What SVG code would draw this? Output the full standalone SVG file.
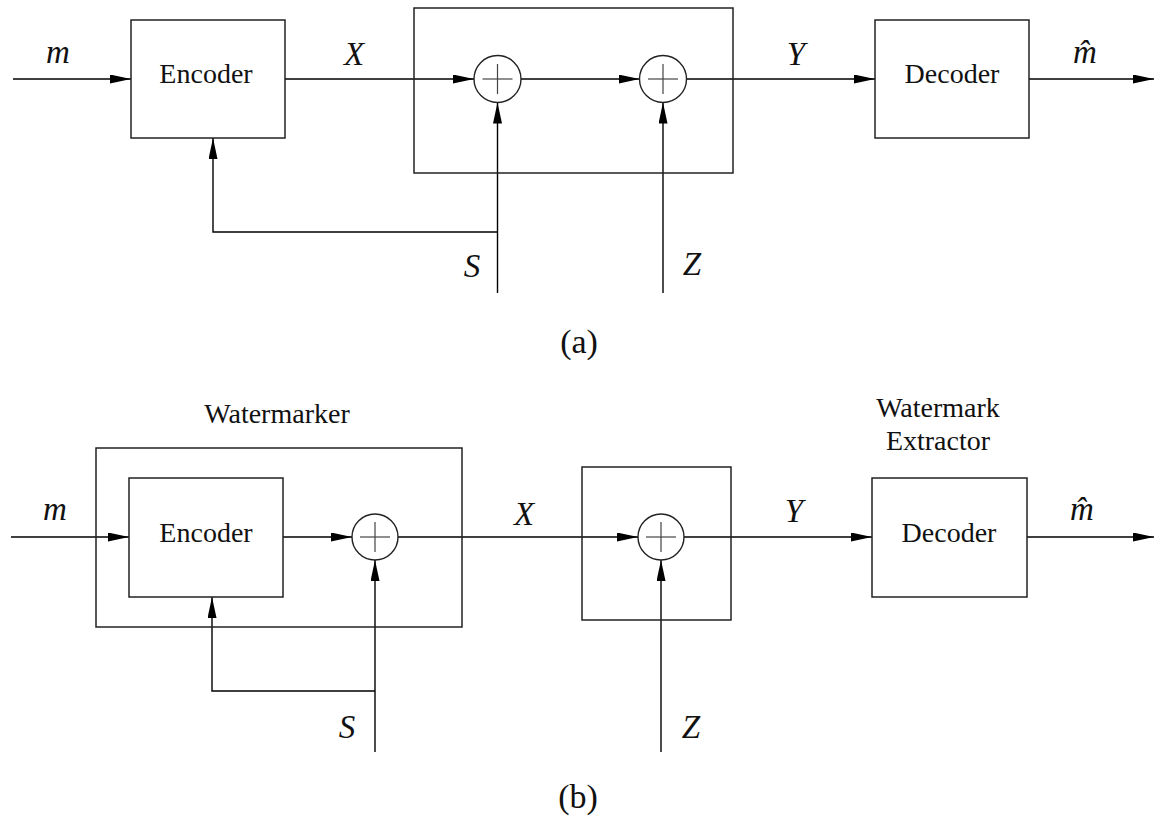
<svg xmlns="http://www.w3.org/2000/svg" width="1155" height="821" viewBox="0 0 1155 821">
<style>
.bg{fill:#fff}
.box{fill:none;stroke:#222;stroke-width:1.5}
.ln{fill:none;stroke:#000;stroke-width:1.4}
.sum{fill:#fff;stroke:#222;stroke-width:1.4}
.plus{stroke:#444;stroke-width:1.2}
.t{font-family:"Liberation Serif","Times New Roman",serif;font-size:28px;fill:#111;text-anchor:middle}
.v{font-family:"Liberation Serif","Times New Roman",serif;font-size:33px;font-style:italic;fill:#111;text-anchor:middle}
.cap{font-family:"Liberation Serif","Times New Roman",serif;font-size:34px;fill:#111;text-anchor:middle}
</style>
<defs>
<marker id="ar" markerUnits="userSpaceOnUse" markerWidth="22" markerHeight="10" refX="21" refY="4.5" orient="auto">
<path d="M0,0 L21,4.5 L0,9 z" fill="#000"/>
</marker>
</defs>
<rect class="bg" x="0" y="0" width="1155" height="821"/>

<g id="connectors">
<!-- (a) -->
<line class="ln" x1="13" y1="79" x2="131" y2="79" marker-end="url(#ar)"/>
<line class="ln" x1="285" y1="79" x2="474" y2="79" marker-end="url(#ar)"/>
<line class="ln" x1="521" y1="79" x2="639.5" y2="79" marker-end="url(#ar)"/>
<line class="ln" x1="686.5" y1="79" x2="875" y2="79" marker-end="url(#ar)"/>
<line class="ln" x1="1029" y1="79" x2="1154" y2="79" marker-end="url(#ar)"/>
<line class="ln" x1="497.5" y1="293" x2="497.5" y2="102.5" marker-end="url(#ar)"/>
<line class="ln" x1="663" y1="293" x2="663" y2="102.5" marker-end="url(#ar)"/>
<polyline class="ln" points="497.5,232 213,232 213,138" marker-end="url(#ar)"/>
<!-- (b) -->
<line class="ln" x1="11" y1="537" x2="129" y2="537" marker-end="url(#ar)"/>
<line class="ln" x1="283" y1="537" x2="352" y2="537" marker-end="url(#ar)"/>
<line class="ln" x1="398" y1="537" x2="638" y2="537" marker-end="url(#ar)"/>
<line class="ln" x1="684" y1="537" x2="872" y2="537" marker-end="url(#ar)"/>
<line class="ln" x1="1027" y1="537" x2="1154" y2="537" marker-end="url(#ar)"/>
<line class="ln" x1="375" y1="752" x2="375" y2="560" marker-end="url(#ar)"/>
<line class="ln" x1="661" y1="752" x2="661" y2="560" marker-end="url(#ar)"/>
<polyline class="ln" points="375,691 212,691 212,597" marker-end="url(#ar)"/>
</g>

<!-- (a) nodes -->
<g id="a-encoder">
<rect class="box" x="131" y="20" width="154" height="118"/>
<text class="t" x="206" y="83">Encoder</text>
</g>
<g id="a-channel">
<rect class="box" x="414" y="8" width="319" height="165"/>
</g>
<g id="a-sum1">
<circle class="sum" cx="497.5" cy="79" r="23.5"/>
<line class="plus" x1="482.5" y1="79" x2="512.5" y2="79"/>
<line class="plus" x1="497.5" y1="64" x2="497.5" y2="94"/>
</g>
<g id="a-sum2">
<circle class="sum" cx="663" cy="79" r="23.5"/>
<line class="plus" x1="648" y1="79" x2="678" y2="79"/>
<line class="plus" x1="663" y1="64" x2="663" y2="94"/>
</g>
<g id="a-decoder">
<rect class="box" x="875" y="20" width="154" height="118"/>
<text class="t" x="952" y="83">Decoder</text>
</g>
<g id="a-labels">
<text class="v" x="58" y="63">m</text>
<text class="v" x="354" y="65">X</text>
<text class="v" x="796" y="65">Y</text>
<text class="v" x="1085" y="63">m̂</text>
<text class="v" x="472" y="277">S</text>
<text class="v" x="692" y="275">Z</text>
<text class="cap" x="579" y="353">(a)</text>
</g>

<!-- (b) nodes -->
<g id="b-watermarker">
<rect class="box" x="96" y="448" width="366" height="179"/>
<text class="t" x="277" y="423">Watermarker</text>
</g>
<g id="b-encoder">
<rect class="box" x="129" y="478" width="154" height="119"/>
<text class="t" x="206" y="542">Encoder</text>
</g>
<g id="b-sum1">
<circle class="sum" cx="375" cy="537" r="23"/>
<line class="plus" x1="360" y1="537" x2="390" y2="537"/>
<line class="plus" x1="375" y1="522" x2="375" y2="552"/>
</g>
<g id="b-channel">
<rect class="box" x="582" y="467" width="149" height="153"/>
</g>
<g id="b-sum2">
<circle class="sum" cx="661" cy="537" r="23"/>
<line class="plus" x1="646" y1="537" x2="676" y2="537"/>
<line class="plus" x1="661" y1="522" x2="661" y2="552"/>
</g>
<g id="b-decoder">
<rect class="box" x="872" y="478" width="155" height="119"/>
<text class="t" x="949" y="542">Decoder</text>
<text class="t" x="938" y="417">Watermark</text>
<text class="t" x="938" y="450">Extractor</text>
</g>
<g id="b-labels">
<text class="v" x="55" y="520">m</text>
<text class="v" x="524" y="525">X</text>
<text class="v" x="794" y="522">Y</text>
<text class="v" x="1082" y="520">m̂</text>
<text class="v" x="347" y="738">S</text>
<text class="v" x="691" y="738">Z</text>
<text class="cap" x="578" y="808">(b)</text>
</g>
</svg>
